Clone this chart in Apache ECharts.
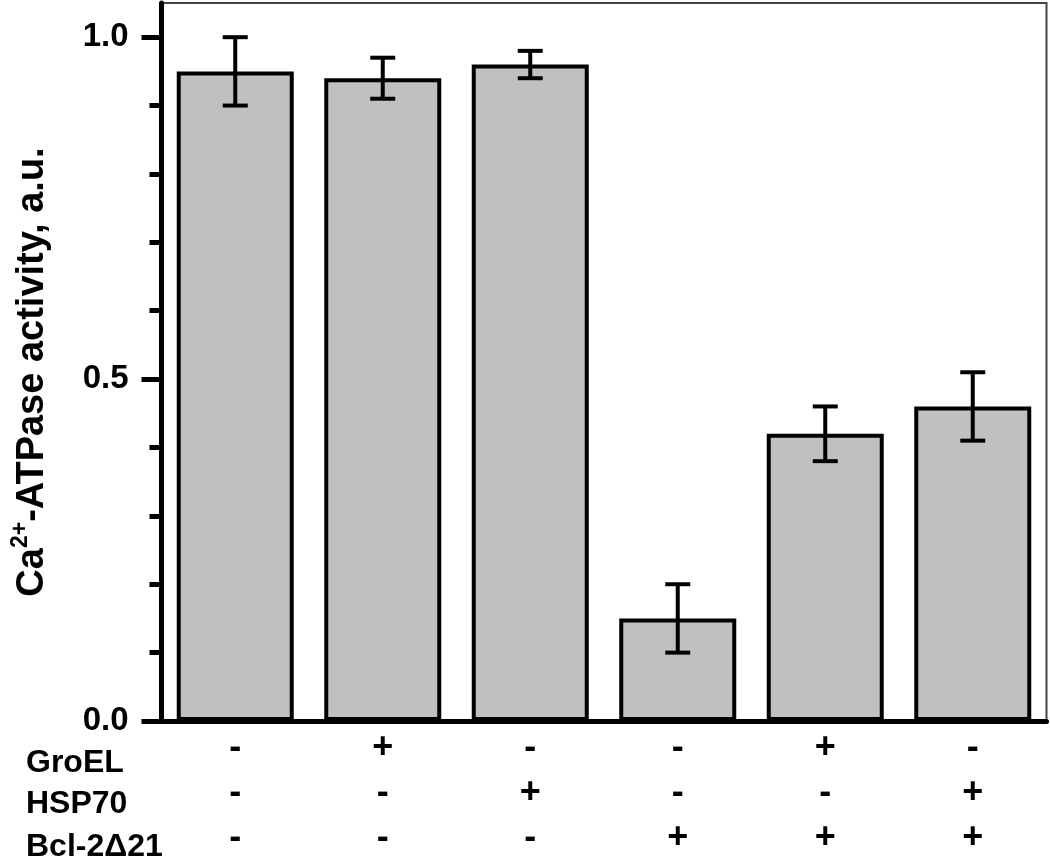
<!doctype html>
<html>
<head>
<meta charset="UTF-8">
<title>Ca-ATPase activity</title>
<script src="https://cdn.jsdelivr.net/npm/echarts@6/dist/echarts.min.js"></script>
</head>
<body style="margin:0">
<div id="chart" style="width: 1050px; height: 862px;"></div>
<script>
// data
var conditions = ['1', '2', '3', '4', '5', '6'];
var activity = [0.95, 0.94, 0.96, 0.15, 0.42, 0.46];
var errors = [0.05, 0.03, 0.02, 0.05, 0.04, 0.05];
var groel = ['-', '+', '-', '-', '+', '-'];
var hsp70 = ['-', '-', '+', '-', '-', '+'];
var bcl = ['-', '-', '-', '+', '+', '+'];
var rowNames = ['GroEL', 'HSP70', 'Bcl-2\u039421'];
var majorTicks = [0, 0.5, 1.0];
var minorTicks = [0.1, 0.2, 0.3, 0.4, 0.6, 0.7, 0.8, 0.9];

var font = 'Liberation Sans, Arial, sans-serif';
var myChart = echarts.init(document.getElementById('chart'));

var errData = activity.map(function (v, i) { return [i, v, errors[i]]; });

option = {
    animation: false,
    grid: {
        left: 161.5, right: 3.5, top: 3, bottom: 141,
        show: true, borderColor: '#444', borderWidth: 2
    },
    xAxis: {
        type: 'category',
        data: conditions,
        axisLine: { lineStyle: { color: '#000', width: 5 } },
        axisTick: { show: false },
        axisLabel: {
            margin: 5,
            fontFamily: font, fontWeight: 'bold', fontSize: 36,
            lineHeight: 45, color: '#000',
            formatter: function (v, i) {
                return groel[i] + '\n' + hsp70[i] + '\n' + bcl[i];
            }
        }
    },
    yAxis: [{
        type: 'value', min: 0, max: 1.05,
        name: '{a|Ca}{sup|2+}{a|-ATPase activity, a.u.}',
        nameLocation: 'middle', nameRotate: 90, nameGap: 106,
        nameTextStyle: {
            padding: [0, 20, 0, 0],
            rich: {
                a: { fontFamily: font, fontWeight: 'bold', fontSize: 38, color: '#000', lineHeight: 46 },
                sup: { fontFamily: font, fontWeight: 'bold', fontSize: 23, color: '#000', verticalAlign: 'top', lineHeight: 46 }
            }
        },
        splitLine: { show: false },
        axisLine: { show: true, lineStyle: { color: '#000', width: 5 } },
        axisTick: { show: true, length: 20, customValues: majorTicks, lineStyle: { width: 5, color: '#000' } },
        axisLabel: {
            customValues: majorTicks, margin: 33, padding: [0, 0, 8, 0],
            fontFamily: font, fontWeight: 'bold', fontSize: 33, color: '#000',
            formatter: function (v) { return v.toFixed(1); }
        }
    }, {
        type: 'value', min: 0, max: 1.05, position: 'left',
        splitLine: { show: false },
        axisLine: { show: false },
        axisLabel: { show: false },
        axisTick: { show: true, length: 12, customValues: minorTicks, lineStyle: { width: 5, color: '#000' } }
    }],
    graphic: rowNames.map(function (t, i) {
        return {
            type: 'text', left: 26, top: [765, 806, 849][i] - 18,
            style: { text: t, fontFamily: font, fontWeight: 'bold', fontSize: 32, fill: '#000' }
        };
    }),
    series: [{
        type: 'bar',
        data: activity,
        barWidth: 117,
        itemStyle: { color: '#c0c0c0', borderColor: '#000', borderWidth: 4 }
    }, {
        type: 'custom',
        data: errData,
        encode: { x: 0, y: 1 },
        z: 3,
        renderItem: function (params, api) {
            var x = api.value(0), v = api.value(1), e = api.value(2);
            var hi = api.coord([x, v + e]);
            var lo = api.coord([x, v - e]);
            var w = 12.5;
            var st = { stroke: '#000', lineWidth: 4 };
            return {
                type: 'group',
                children: [
                    { type: 'line', shape: { x1: hi[0], y1: hi[1], x2: lo[0], y2: lo[1] }, style: st },
                    { type: 'line', shape: { x1: hi[0] - w, y1: hi[1], x2: hi[0] + w, y2: hi[1] }, style: st },
                    { type: 'line', shape: { x1: lo[0] - w, y1: lo[1], x2: lo[0] + w, y2: lo[1] }, style: st }
                ]
            };
        }
    }]
};

myChart.setOption(option);
</script>
</body>
</html>
